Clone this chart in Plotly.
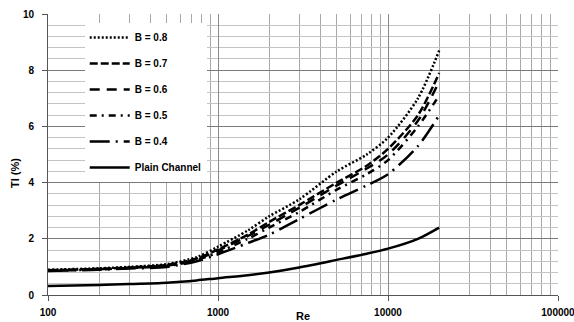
import plotly.graph_objects as go

re_vals = [100, 200, 300, 500, 750, 1000, 1500, 2000, 3000, 5000, 7500, 10000, 15000, 20000]
b08 = [0.90, 0.95, 1.00, 1.10, 1.35, 1.72, 2.30, 2.80, 3.40, 4.40, 5.00, 5.60, 7.00, 8.70]
b07 = [0.88, 0.93, 0.98, 1.07, 1.30, 1.62, 2.15, 2.60, 3.20, 4.00, 4.60, 5.20, 6.40, 7.90]
b06 = [0.87, 0.92, 0.97, 1.05, 1.27, 1.58, 2.10, 2.50, 3.10, 3.90, 4.50, 5.00, 6.20, 7.60]
b05 = [0.86, 0.91, 0.96, 1.03, 1.24, 1.52, 2.00, 2.40, 2.95, 3.75, 4.30, 4.80, 6.00, 7.10]
b04 = [0.85, 0.90, 0.94, 1.00, 1.20, 1.45, 1.85, 2.15, 2.70, 3.40, 3.90, 4.30, 5.30, 6.40]
plain = [0.32, 0.36, 0.39, 0.44, 0.52, 0.60, 0.70, 0.80, 0.98, 1.25, 1.47, 1.65, 2.00, 2.40]

series = [
    ("B = 0.8", b08, "2px,2px"),
    ("B = 0.7", b07, "8px,3px"),
    ("B = 0.6", b06, "10px,7px"),
    ("B = 0.5", b05, "7px,5px,2px,5px"),
    ("B = 0.4", b04, "20px,6px,2px,6px"),
    ("Plain Channel", plain, "solid"),
]

fig = go.Figure()
for i, (name, vals, dash) in enumerate(series):
    fig.add_trace(go.Scatter(
        x=re_vals, y=vals, name=name, mode="lines",
        line=dict(color="black", width=2.5, dash=dash, shape="spline", smoothing=0.8),
        legendgroup=f"g{i}",
    ))

fam = "Liberation Sans, Arial"
font = dict(family=fam, size=10, color="black", weight="bold")

plot_w = 574 - 48 - 16
plot_h = 322 - 14 - 27

fig.update_layout(
    width=574, height=322,
    margin=dict(l=48, r=16, t=14, b=27, autoexpand=False),
    paper_bgcolor="white", plot_bgcolor="white",
    font=font,
    showlegend=True,
    legend=dict(
        x=0.072, y=0.968, xanchor="left", yanchor="top",
        bgcolor="white", borderwidth=0,
        tracegroupgap=7, font=dict(size=10, weight="bold", family=fam),
        itemwidth=40,
    ),
    xaxis=dict(
        type="log", range=[2, 5], automargin=False,
        tickvals=[100, 1000, 10000, 100000],
        ticktext=["100", "1000", "10000", "100000"],
        showgrid=True, gridcolor="#8a8a8a", gridwidth=1,
        minor=dict(tickvals=[m * 10 ** e for e in (2, 3, 4) for m in range(2, 10)],
                   showgrid=True, gridcolor="#a8a8a8", gridwidth=1, ticks=""),
        showline=True, linecolor="#555555", linewidth=1,
        ticks="outside", ticklen=5, tickcolor="#555555",
        ticklabelstandoff=3, zeroline=False, ticklabeloverflow="allow",
    ),
    yaxis=dict(
        range=[0, 10], dtick=2, automargin=False,
        showgrid=True, gridcolor="#7a7a7a", gridwidth=1,
        minor=dict(dtick=0.4, showgrid=True, gridcolor="#c4c4c4", gridwidth=1, ticks=""),
        showline=True, linecolor="#555555", linewidth=1,
        ticks="outside", ticklen=5, tickcolor="#555555",
        ticklabelstandoff=6, zeroline=False,
    ),
    annotations=[
        dict(text="Re", x=0.5, xref="paper", y=-0.075, yref="paper",
             showarrow=False, font=dict(size=11, weight="bold", family=fam),
             xanchor="center", yanchor="middle"),
        dict(text="TI (%)", x=(15 - 48) / plot_w, xref="paper",
             y=(295 - 173) / plot_h, yref="paper", showarrow=False,
             xanchor="center", yanchor="middle",
             textangle=-90, font=dict(size=11, weight="bold", family=fam)),
    ],
)

fig.write_html(
    "out.html",
    config={"displayModeBar": False},
    post_script="document.body.style.margin='0';document.body.style.overflow='hidden';",
)
